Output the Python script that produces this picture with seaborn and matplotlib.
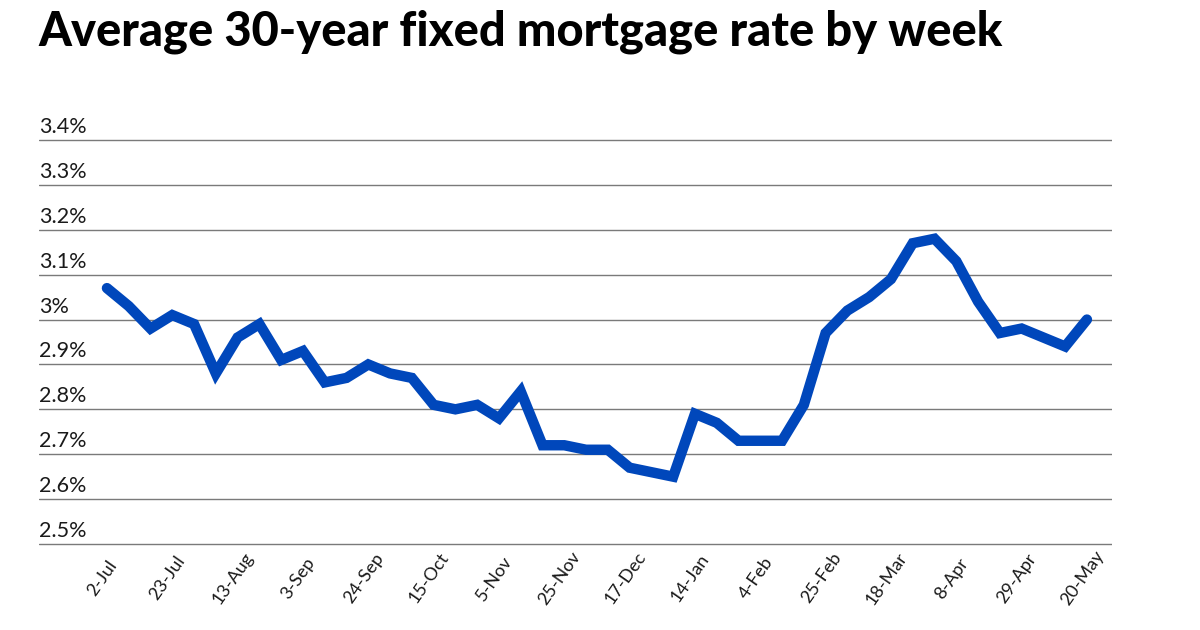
import matplotlib
matplotlib.use("Agg")
import matplotlib.pyplot as plt
import matplotlib.transforms as mtransforms
import pandas as pd
import seaborn as sns

# Weekly average 30-year fixed mortgage rate (%), Jul 2020 - May 2021
weeks = ["2-Jul", "9-Jul", "16-Jul", "23-Jul", "30-Jul", "6-Aug", "13-Aug", "20-Aug",
         "27-Aug", "3-Sep", "10-Sep", "17-Sep", "24-Sep", "1-Oct", "8-Oct", "15-Oct",
         "22-Oct", "29-Oct", "5-Nov", "12-Nov", "19-Nov", "25-Nov", "3-Dec", "10-Dec",
         "17-Dec", "23-Dec", "7-Jan", "14-Jan", "21-Jan", "28-Jan", "4-Feb", "11-Feb",
         "18-Feb", "25-Feb", "4-Mar", "11-Mar", "18-Mar", "25-Mar", "1-Apr", "8-Apr",
         "15-Apr", "22-Apr", "29-Apr", "6-May", "13-May", "20-May"]
rates = [3.07, 3.03, 2.98, 3.01, 2.99, 2.88, 2.96, 2.99,
         2.91, 2.93, 2.86, 2.87, 2.90, 2.88, 2.87, 2.81,
         2.80, 2.81, 2.78, 2.84, 2.72, 2.72, 2.71, 2.71,
         2.67, 2.66, 2.65, 2.79, 2.77, 2.73, 2.73, 2.73,
         2.81, 2.97, 3.02, 3.05, 3.09, 3.17, 3.18, 3.13,
         3.04, 2.97, 2.98, 2.96, 2.94, 3.00]
y_ticks = [2.5, 2.6, 2.7, 2.8, 2.9, 3.0, 3.1, 3.2, 3.3, 3.4]

sns.set_theme(style="white")
plt.rcParams["font.family"] = ["Lato", "DejaVu Sans"]

df = pd.DataFrame({"week": weeks, "rate": rates})
df["pos"] = range(len(df))

W, H = 1200, 630
fig = plt.figure(figsize=(12, 6.3), dpi=100)
# axes box in pixels (a little padding above/below so the outer gridlines are not clipped)
ax = fig.add_axes([39 / W, 1 - 549 / H, 1073 / W, 414 / H])

sns.lineplot(data=df, x="pos", y="rate", color="#0047BB", linewidth=7.5,
             solid_capstyle="round", solid_joinstyle="miter", ax=ax)

ax.set_ylim(2.5 - 0.0111, 3.4 + 0.0111)
ax.set_xlim(-3.12, 46.15)

ax.set_yticks(y_ticks)
ax.grid(axis="y", color="#7a7a7a", linewidth=1.0)
ax.grid(axis="x", visible=False)
ax.set_axisbelow(True)
for s in ax.spines.values():
    s.set_visible(False)
ax.tick_params(axis="y", left=False, labelleft=False)
ax.set_xlabel("")
ax.set_ylabel("")

# y labels sit on top of their gridlines, left aligned
lift = mtransforms.ScaledTranslation(0, 7 / 100, fig.dpi_scale_trans)
blend = mtransforms.blended_transform_factory(ax.transAxes, ax.transData)
for v in y_ticks:
    ax.text(0, v, f"{v:g}%", transform=blend + lift, ha="left", va="baseline",
            fontsize=15.5, color="#1a1a1a")

# x labels: every third week, rotated
ax.set_xticks(df["pos"][::3])
ax.set_xticklabels(weeks[::3], rotation=55, ha="center", va="center",
                   rotation_mode="anchor", fontsize=13, color="#1a1a1a")
ax.tick_params(axis="x", length=0, pad=21)
shift = mtransforms.ScaledTranslation(-4.5 / 100, 0, fig.dpi_scale_trans)
for lbl in ax.get_xticklabels():
    lbl.set_transform(lbl.get_transform() + shift)

fig.text(38 / W, 1 - 45 / H, "Average 30-year fixed mortgage rate by week",
         fontsize=33.8, fontweight="black", ha="left", va="baseline", color="black")

fig.savefig("out.png", dpi=100)
